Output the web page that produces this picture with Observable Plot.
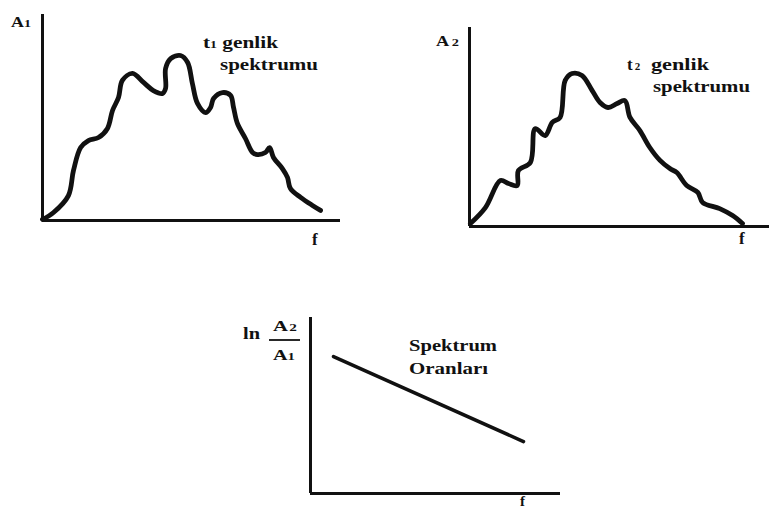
<!DOCTYPE html>
<html>
<head>
<meta charset="utf-8">
<script src="https://cdn.jsdelivr.net/npm/d3@7"></script>
<script src="https://cdn.jsdelivr.net/npm/@observablehq/plot@0.6"></script>
<style>
  html, body { margin: 0; padding: 0; background: #fff; }
  #page { position: relative; width: 770px; height: 511px; overflow: hidden; background: #fff; }
  .panel { position: absolute; }
  .panel svg { display: block; background: transparent; }
  #labels { position: absolute; left: 0; top: 0; pointer-events: none; }
  #labels, #labels text, #labels tspan {
    font-family: "Liberation Serif", "Times New Roman", serif !important;
    font-weight: bold; fill: #111;
  }
</style>
</head>
<body>
<div id="page">
  <div class="panel" id="p1" style="left:0px;top:0px"></div>
  <div class="panel" id="p2" style="left:420px;top:0px"></div>
  <div class="panel" id="p3" style="left:260px;top:300px"></div>
  <svg id="labels" width="770" height="511">
    <!-- amplitude spectrum t1 -->
    <text x="11" y="27" font-size="14" textLength="20" lengthAdjust="spacingAndGlyphs">A<tspan font-size="11">1</tspan></text>
    <text x="203" y="48" font-size="17" textLength="75" lengthAdjust="spacingAndGlyphs">t<tspan font-size="11">1</tspan> genlik</text>
    <text x="220" y="70" font-size="17" textLength="98" lengthAdjust="spacingAndGlyphs">spektrumu</text>
    <text x="312" y="245" font-size="17">f</text>
    <!-- amplitude spectrum t2 -->
    <text x="436" y="46" font-size="14" textLength="23" lengthAdjust="spacingAndGlyphs">A<tspan font-size="11" dx="2">2</tspan></text>
    <text x="627" y="70" font-size="17">t<tspan font-size="11" dx="2">2</tspan></text>
    <text x="651" y="70" font-size="17" textLength="58" lengthAdjust="spacingAndGlyphs">genlik</text>
    <text x="653" y="92" font-size="17" textLength="97" lengthAdjust="spacingAndGlyphs">spektrumu</text>
    <text x="739" y="244" font-size="17">f</text>
    <!-- spectral ratio ln(A2/A1) -->
    <text x="243" y="339" font-size="17" textLength="17" lengthAdjust="spacingAndGlyphs">ln</text>
    <text x="273" y="331" font-size="15" textLength="24" lengthAdjust="spacingAndGlyphs">A<tspan font-size="11" dx="1">2</tspan></text>
    <line x1="269" x2="300" y1="340" y2="340" stroke="#111" stroke-width="1.8"/>
    <text x="273" y="360" font-size="15" textLength="22" lengthAdjust="spacingAndGlyphs">A<tspan font-size="11">1</tspan></text>
    <text x="409" y="351" font-size="17" textLength="88" lengthAdjust="spacingAndGlyphs">Spektrum</text>
    <text x="409" y="374" font-size="17" textLength="79" lengthAdjust="spacingAndGlyphs">Oranları</text>
    <text x="520" y="506" font-size="15">f</text>
  </svg>
</div>
<script>
// t1 amplitude spectrum: frequency (relative units) vs amplitude A1
const f1 = [0, 3.7, 8.7, 10.4, 12.8, 15.4, 18.8, 21.8, 23.5, 25.5, 26.8, 30.2, 33.9, 37.2, 40.3, 41.3, 41.3, 43.0, 46.3, 48.7, 50.3, 52.0, 54.7, 56.4, 57.4, 60.4, 63.1, 64.1, 65.4, 68.1, 70.5, 72.1, 74.8, 76.2, 77.5, 80.5, 82.2, 83.2, 86.6, 90.6, 93.3];
const A1 = [0.5, 3.9, 12.1, 24.3, 35.4, 38.8, 40.3, 44.7, 53.4, 59.7, 68.0, 71.4, 67.0, 63.1, 61.7, 64.1, 73.8, 78.6, 80.1, 76.7, 66.5, 56.8, 52.4, 54.9, 59.2, 62.1, 60.7, 54.9, 47.1, 39.8, 33.0, 32.0, 33.0, 35.4, 30.6, 25.2, 20.9, 15.5, 11.2, 7.3, 4.9];

// t2 amplitude spectrum: frequency vs amplitude A2
const f2 = [0.3, 5.3, 10.3, 13.0, 15.9, 16.3, 20.3, 21.9, 25.2, 27.6, 30.2, 31.9, 34.2, 37.5, 40.9, 43.5, 46.2, 49.2, 51.8, 53.5, 56.8, 60.1, 63.5, 66.8, 69.1, 72.4, 76.1, 77.7, 83.4, 87.7, 91.0];
const A2 = [1.5, 9.5, 23.1, 21.6, 20.6, 28.1, 32.2, 49.2, 45.7, 52.3, 54.8, 73.4, 76.9, 75.9, 68.3, 62.3, 59.8, 61.8, 63.3, 54.8, 48.2, 39.7, 33.2, 29.1, 27.1, 20.6, 17.1, 12.1, 9.0, 5.5, 1.5];

// spectral ratio ln(A2/A1): straight decreasing line
const fRatio = [9.2, 85.2];
const lnRatio = [77.8, 29.5];

const toRows = (xs, ys) => xs.map((x, i) => ({f: x, a: ys[i]}));

function panel({rows, width, height, margins, curve, lineWidth}) {
  return Plot.plot({
    width, height,
    marginLeft: margins[0], marginRight: margins[1],
    marginTop: margins[2], marginBottom: margins[3],
    x: {domain: [0, 100], axis: null},
    y: {domain: [0, 100], axis: null},
    style: {background: "transparent"},
    marks: [
      Plot.ruleX([0], {stroke: "#111", strokeWidth: 3}),
      Plot.ruleY([0], {stroke: "#111", strokeWidth: 3}),
      Plot.line(rows, {
        x: "f", y: "a", curve,
        stroke: "#111", strokeWidth: lineWidth,
        strokeLinejoin: "round", strokeLinecap: "round"
      })
    ]
  });
}

document.getElementById("p1").append(panel({
  rows: toRows(f1, A1), width: 345, height: 250,
  margins: [42, 5, 14, 30], curve: "catmull-rom", lineWidth: 4.8
}));
document.getElementById("p2").append(panel({
  rows: toRows(f2, A2), width: 350, height: 250,
  margins: [49, 1, 27, 24], curve: "catmull-rom", lineWidth: 4.8
}));
document.getElementById("p3").append(panel({
  rows: toRows(fRatio, lnRatio), width: 302, height: 211,
  margins: [50, 2, 17, 18], curve: "linear", lineWidth: 3.5
}));
</script>
</body>
</html>
